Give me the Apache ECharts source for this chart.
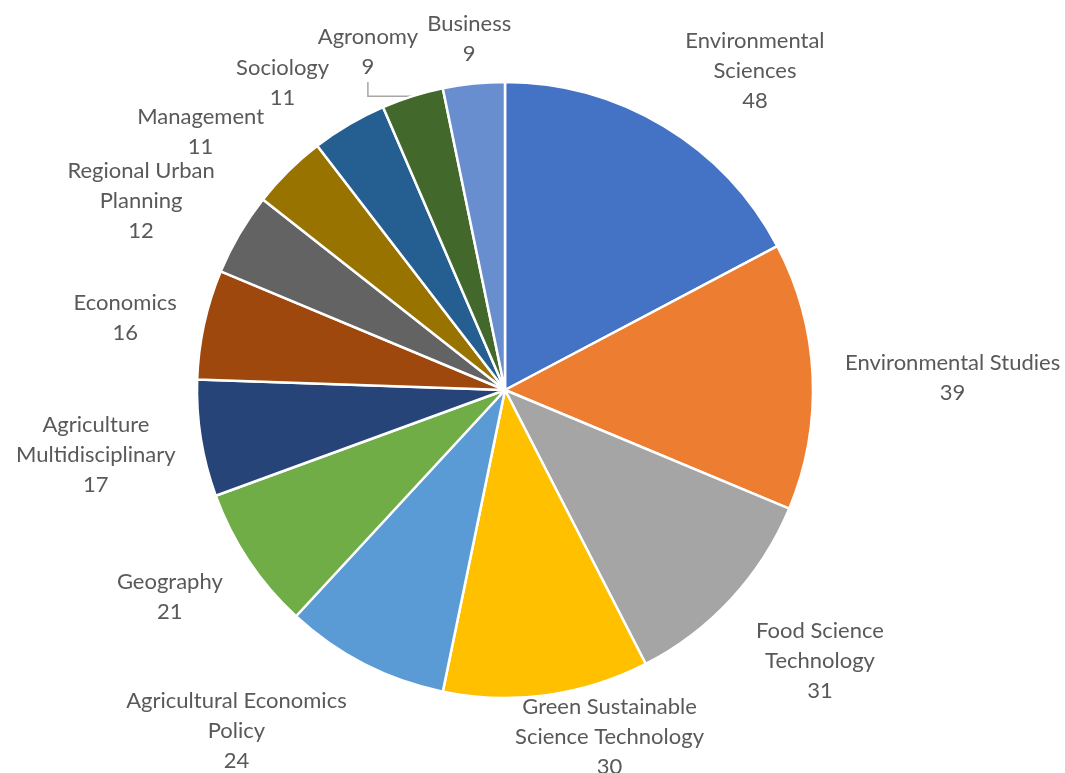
<!DOCTYPE html>
<html><head><meta charset="utf-8">
<script src="https://cdn.jsdelivr.net/npm/echarts@6/dist/echarts.min.js"></script>
<style>html,body{margin:0;padding:0;background:#fff}#c{width:1065px;height:773px}</style>
</head><body><div id="c"></div>
<script>
// ---- data ----
const categories = [
  "Environmental\nSciences", "Environmental Studies", "Food Science\nTechnology",
  "Green Sustainable\nScience Technology", "Agricultural Economics\nPolicy", "Geography",
  "Agriculture\nMultidisciplinary", "Economics", "Regional Urban\nPlanning",
  "Management", "Sociology", "Agronomy", "Business"
];
const values = [48, 39, 31, 30, 24, 21, 17, 16, 12, 11, 11, 9, 9];

// ---- styles / layout ----
const colors = ["#4472C4", "#ED7D31", "#A5A5A5", "#FFC000", "#5B9BD5", "#70AD47",
  "#264478", "#9E480E", "#636363", "#997300", "#255E91", "#43682B", "#698ED0"];
const labelAngleNudge = [7, 1, -2, -9, 11, 2, 0, -1.5, -3, -5, -5.5, -4.6, 0];
const labelGap = [20, 32, 30, -6, 28, 25, 22, 23, 16, 24, 20, 12, 13];
const CX = 505, CY = 390, R = 308;

const total = values.reduce((a, b) => a + b, 0);
const midAngles = [];
{ let acc = 0; values.forEach(v => { midAngles.push((acc + v / 2) / total * 360); acc += v; }); }

const chart = echarts.init(document.getElementById('c'), null, { renderer: 'canvas' });
chart.setOption({
  backgroundColor: '#ffffff',
  animation: false,
  series: [{
    type: 'pie',
    center: [CX, CY],
    radius: [0, R],
    startAngle: 90,
    clockwise: true,
    avoidLabelOverlap: false,
    itemStyle: { borderColor: '#ffffff', borderWidth: 2.5 },
    label: {
      show: true, position: 'outside',
      formatter: p => p.name + '\n' + p.value,
      fontFamily: 'Lato', fontSize: 22, lineHeight: 30, color: '#595959', align: 'center'
    },
    labelLine: { show: false },
    labelLayout: function (p) {
      const i = p.dataIndex;
      const a = (midAngles[i] + labelAngleNudge[i]) * Math.PI / 180;
      const ux = Math.sin(a), uy = -Math.cos(a);
      const w = p.labelRect.width / 2, h = p.labelRect.height / 2;
      const target = R + labelGap[i];
      let lo = 0, hi = 900;
      for (let k = 0; k < 40; k++) {
        const t = (lo + hi) / 2;
        const bx = CX + ux * t, by = CY + uy * t;
        const nx = Math.max(bx - w, Math.min(CX, bx + w));
        const ny = Math.max(by - h, Math.min(CY, by + h));
        const d = Math.hypot(nx - CX, ny - CY);
        if (d < target) lo = t; else hi = t;
      }
      return { x: CX + ux * hi, y: CY + uy * hi, align: 'center', verticalAlign: 'middle' };
    },
    data: categories.map((n, i) => ({
      name: n, value: values[i],
      itemStyle: { color: colors[i] },
      labelLine: i === 11 ? { show: true, lineStyle: { color: '#A6A6A6', width: 1.5 } } : { show: false }
    }))
  }]
});
</script>
</body></html>
